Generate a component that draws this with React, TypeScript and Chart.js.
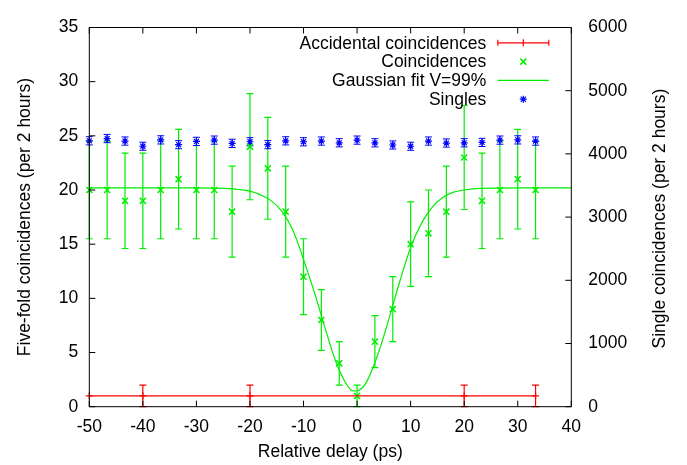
import React, { useEffect, useRef } from "react";
import { Chart, registerables } from "chart.js";

Chart.register(...registerables);

// ---- data ----
const delays = [-50, -46.67, -43.33, -40, -36.67, -33.33, -30, -26.67, -23.33, -20, -16.67, -13.33, -10, -6.67, -3.33, 0, 3.33, 6.67, 10, 13.33, 16.67, 20, 23.33, 26.67, 30, 33.33];
const coincidences = [20, 20, 19, 19, 20, 21, 20, 20, 18, 24, 22, 18, 12, 8, 4, 1, 6, 9, 15, 16, 18, 23, 19, 20, 21, 20];
const coincidenceErrors = [4.5, 4.5, 4.4, 4.4, 4.5, 4.6, 4.5, 4.5, 4.2, 4.9, 4.7, 4.2, 3.5, 2.8, 2.0, 1.0, 2.4, 3.0, 3.9, 4.0, 4.2, 4.8, 4.4, 4.5, 4.6, 4.5];
const singles = [4207, 4243, 4203, 4121, 4222, 4146, 4198, 4218, 4167, 4192, 4146, 4207, 4192, 4203, 4176, 4218, 4176, 4141, 4121, 4203, 4172, 4176, 4182, 4218, 4222, 4203];
const singleErrors = [65, 65, 65, 64, 65, 64, 65, 65, 65, 65, 64, 65, 65, 65, 65, 65, 65, 64, 64, 65, 65, 65, 65, 65, 65, 65];
const accidentalDelays = [-50, -40, -20, 20, 33.33];
const accidentalCounts = [1, 1, 1, 1, 1];
const accidentalErrors = [0, 1, 1, 1, 1];
const fitDelays = [-50, -30, -25, -22, -20, -18, -16, -14, -12, -10, -8, -6, -4, -2, -1, -0.3, 1, 2, 4, 6, 8, 10, 12, 14, 16, 18, 20, 23, 30, 40];
const fitCounts = [20.2, 20.2, 20.15, 20.05, 19.9, 19.55, 19.0, 18.0, 16.3, 13.6, 10.6, 7.3, 4.2, 2.1, 1.5, 1.45, 1.75, 2.5, 5.0, 8.2, 11.6, 14.7, 16.9, 18.4, 19.3, 19.8, 20.0, 20.15, 20.2, 20.2];
const xTickValues = [-50, -40, -30, -20, -10, 0, 10, 20, 30, 40];
const yTickValues = [0, 5, 10, 15, 20, 25, 30, 35];
const y2TickValues = [0, 1000, 2000, 3000, 4000, 5000, 6000];
const legendLabels = ["Accidental coincidences", "Coincidences", "Gaussian fit V=99%", "Singles"];
const y2Title = "Single coincidences (per 2 hours)";

const RED = "#ff0000";
const GREEN = "#00ee00";
const BLUE = "#0000ff";
const FONT_FAMILY = "'Liberation Sans', Arial, Helvetica, sans-serif";
const FONT_SIZE = 17.5;

const toPoints = (xs: number[], ys: number[]) => xs.map((x, i) => ({ x, y: ys[i] }));

const overlayPlugin = {
  id: "overlay",
  beforeDatasetsDraw(chart: any) {
    const { ctx, scales } = chart;
    const x = scales.x;
    const y = scales.y;
    const y2 = scales.y2;
    const cap = 3.5;
    const bar = (px: number, pTop: number, pBot: number, color: string, w: number) => {
      ctx.strokeStyle = color;
      ctx.lineWidth = w;
      ctx.beginPath();
      ctx.moveTo(px, pTop);
      ctx.lineTo(px, pBot);
      ctx.moveTo(px - cap, pTop);
      ctx.lineTo(px + cap, pTop);
      ctx.moveTo(px - cap, pBot);
      ctx.lineTo(px + cap, pBot);
      ctx.stroke();
    };
    ctx.save();
    accidentalDelays.forEach((d, i) => {
      if (accidentalErrors[i] <= 0) return;
      bar(
        x.getPixelForValue(d),
        y.getPixelForValue(accidentalCounts[i] + accidentalErrors[i]),
        y.getPixelForValue(accidentalCounts[i] - accidentalErrors[i]),
        RED,
        1.2
      );
    });
    delays.forEach((d, i) => {
      bar(
        x.getPixelForValue(d),
        y.getPixelForValue(coincidences[i] + coincidenceErrors[i]),
        y.getPixelForValue(coincidences[i] - coincidenceErrors[i]),
        GREEN,
        1.2
      );
    });
    delays.forEach((d, i) => {
      bar(
        x.getPixelForValue(d),
        y2.getPixelForValue(singles[i] + singleErrors[i]),
        y2.getPixelForValue(singles[i] - singleErrors[i]),
        BLUE,
        1
      );
    });
    ctx.restore();
  },
  afterDraw(chart: any) {
    const { ctx, chartArea: a, scales } = chart;
    const x = scales.x;
    const y = scales.y;
    const y2 = scales.y2;
    const tick = 6;
    ctx.save();
    ctx.strokeStyle = "#000";
    ctx.lineWidth = 1;
    ctx.beginPath();
    ctx.rect(a.left, a.top, a.right - a.left, a.bottom - a.top);
    xTickValues.forEach((v) => {
      const px = x.getPixelForValue(v);
      ctx.moveTo(px, a.bottom);
      ctx.lineTo(px, a.bottom - tick);
      ctx.moveTo(px, a.top);
      ctx.lineTo(px, a.top + tick);
    });
    yTickValues.forEach((v) => {
      const py = y.getPixelForValue(v);
      ctx.moveTo(a.left, py);
      ctx.lineTo(a.left + tick, py);
    });
    y2TickValues.forEach((v) => {
      const py = y2.getPixelForValue(v);
      ctx.moveTo(a.right, py);
      ctx.lineTo(a.right - tick, py);
    });
    ctx.stroke();

    ctx.font = `${FONT_SIZE}px ${FONT_FAMILY}`;
    ctx.fillStyle = "#000";

    // right axis title, reading bottom-to-top like the left one
    ctx.save();
    ctx.translate(y2.right - 27, (a.top + a.bottom) / 2 + 1.5);
    ctx.rotate(-Math.PI / 2);
    ctx.textAlign = "center";
    ctx.textBaseline = "middle";
    ctx.fillText(y2Title, 0, 0);
    ctx.restore();

    // key (top right, text right-aligned, sample to its right)
    const textRight = a.right - 85;
    const sx0 = a.right - 73.5;
    const sx1 = a.right - 22.5;
    const sxc = (sx0 + sx1) / 2;
    const row0 = a.top + 15.3;
    const rowStep = 18.8;
    ctx.textAlign = "right";
    ctx.textBaseline = "middle";
    legendLabels.forEach((t, i) => ctx.fillText(t, textRight, row0 + i * rowStep + 1));

    // Accidental sample: line with error ticks and a plus
    let ry = row0;
    ctx.strokeStyle = RED;
    ctx.lineWidth = 1.2;
    ctx.beginPath();
    ctx.moveTo(sx0, ry);
    ctx.lineTo(sx1, ry);
    ctx.moveTo(sx0, ry - 3);
    ctx.lineTo(sx0, ry + 3);
    ctx.moveTo(sx1, ry - 3);
    ctx.lineTo(sx1, ry + 3);
    ctx.moveTo(sxc, ry - 3.5);
    ctx.lineTo(sxc, ry + 3.5);
    ctx.stroke();
    // Coincidences sample: x
    ry = row0 + rowStep;
    ctx.strokeStyle = GREEN;
    ctx.lineWidth = 1.5;
    ctx.beginPath();
    ctx.moveTo(sxc - 3, ry - 3);
    ctx.lineTo(sxc + 3, ry + 3);
    ctx.moveTo(sxc - 3, ry + 3);
    ctx.lineTo(sxc + 3, ry - 3);
    ctx.stroke();
    // Fit sample: line
    ry = row0 + 2 * rowStep;
    ctx.lineWidth = 1.2;
    ctx.beginPath();
    ctx.moveTo(sx0, ry);
    ctx.lineTo(sx1, ry);
    ctx.stroke();
    // Singles sample: star
    ry = row0 + 3 * rowStep;
    ctx.strokeStyle = BLUE;
    ctx.lineWidth = 1.2;
    ctx.beginPath();
    ctx.moveTo(sxc - 3.5, ry);
    ctx.lineTo(sxc + 3.5, ry);
    ctx.moveTo(sxc, ry - 3.5);
    ctx.lineTo(sxc, ry + 3.5);
    ctx.moveTo(sxc - 2.6, ry - 2.6);
    ctx.lineTo(sxc + 2.6, ry + 2.6);
    ctx.moveTo(sxc - 2.6, ry + 2.6);
    ctx.lineTo(sxc + 2.6, ry - 2.6);
    ctx.stroke();
    ctx.restore();
  },
};

export default function App() {
  const ref = useRef<HTMLCanvasElement>(null);

  useEffect(() => {
    if (!ref.current) return;
    Chart.defaults.font.family = FONT_FAMILY;
    Chart.defaults.font.size = FONT_SIZE;
    Chart.defaults.color = "#000";
    const font = { family: FONT_FAMILY, size: FONT_SIZE };

    const chart = new Chart(ref.current, {
      type: "scatter",
      data: {
        datasets: [
          {
            label: legendLabels[0],
            data: toPoints(accidentalDelays, accidentalCounts),
            showLine: true,
            borderColor: RED,
            backgroundColor: RED,
            borderWidth: 1.2,
            pointStyle: "cross",
            pointRadius: 3.5,
            pointBorderWidth: 1.2,
            yAxisID: "y",
            clip: false,
          },
          {
            label: legendLabels[1],
            data: toPoints(delays, coincidences),
            showLine: false,
            borderColor: GREEN,
            backgroundColor: GREEN,
            pointStyle: "crossRot",
            pointRadius: 4.3,
            pointBorderWidth: 1.5,
            yAxisID: "y",
            clip: false,
          },
          {
            label: legendLabels[2],
            data: toPoints(fitDelays, fitCounts),
            showLine: true,
            borderColor: GREEN,
            backgroundColor: GREEN,
            borderWidth: 1.2,
            pointRadius: 0,
            cubicInterpolationMode: "monotone",
            yAxisID: "y",
            clip: false,
          },
          {
            label: legendLabels[3],
            data: toPoints(delays, singles),
            showLine: false,
            borderColor: BLUE,
            backgroundColor: BLUE,
            pointStyle: "star",
            pointRadius: 3.5,
            pointBorderWidth: 1.2,
            yAxisID: "y2",
            clip: false,
          },
        ],
      } as any,
      options: {
        animation: false,
        responsive: false,
        maintainAspectRatio: false,
        events: [],
        layout: { padding: { top: 14.5, left: 0, right: 0, bottom: 0 } },
        plugins: {
          legend: { display: false },
          tooltip: { enabled: false },
        },
        scales: {
          x: {
            type: "linear",
            min: -50,
            max: 40,
            afterBuildTicks: (s: any) => {
              s.ticks = xTickValues.map((v) => ({ value: v }));
            },
            afterFit: (s: any) => {
              s.height = 58.3;
            },
            grid: { display: false, drawTicks: false },
            border: { display: false },
            ticks: { font, color: "#000", padding: 10, autoSkip: false, maxRotation: 0, callback: (v: any) => String(v) },
            title: { display: true, text: "Relative delay (ps)", font, color: "#000", padding: { top: 0, bottom: 2 } },
          },
          y: {
            type: "linear",
            position: "left",
            min: 0,
            max: 35,
            afterBuildTicks: (s: any) => {
              s.ticks = yTickValues.map((v) => ({ value: v }));
            },
            afterFit: (s: any) => {
              s.width = 89.3;
            },
            grid: { display: false, drawTicks: false },
            border: { display: false },
            ticks: { font, color: "#000", padding: 11, autoSkip: false, callback: (v: any) => String(v) },
            title: { display: true, text: "Five-fold coincidences (per 2 hours)", font, color: "#000", padding: { top: 14.5, bottom: 0 } },
          },
          y2: {
            type: "linear",
            position: "right",
            min: 0,
            max: 6000,
            afterBuildTicks: (s: any) => {
              s.ticks = y2TickValues.map((v) => ({ value: v }));
            },
            afterFit: (s: any) => {
              s.width = 115.7;
            },
            grid: { display: false, drawTicks: false },
            border: { display: false },
            ticks: { font, color: "#000", padding: 17, autoSkip: false, callback: (v: any) => String(v) },
            title: { display: false },
          },
        },
      } as any,
      plugins: [overlayPlugin],
    });
    return () => chart.destroy();
  }, []);

  return (
    <div style={{ position: "absolute", left: 0, top: 0, width: 687, height: 465, background: "#fff" }}>
      <canvas ref={ref} width={687} height={465} style={{ display: "block", width: 687, height: 465 }} />
    </div>
  );
}
